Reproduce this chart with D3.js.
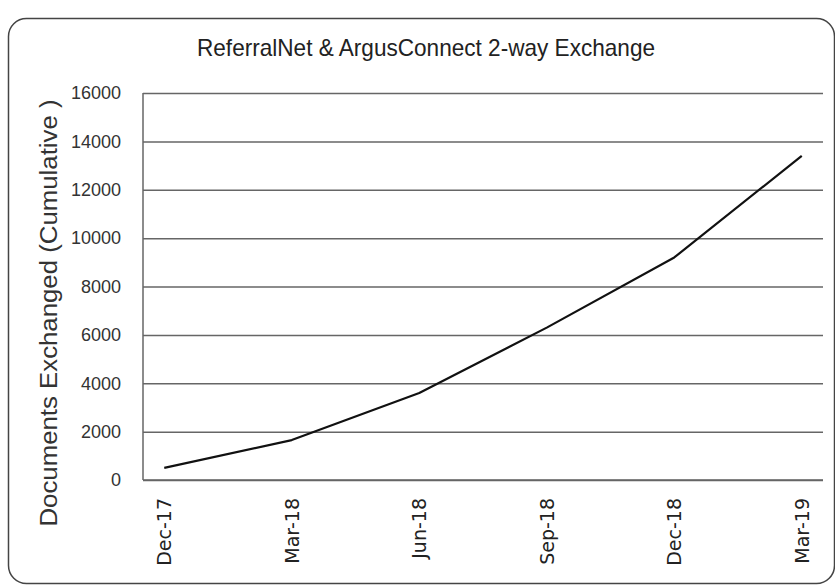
<!DOCTYPE html>
<html>
<head>
<meta charset="utf-8">
<script src="https://cdn.jsdelivr.net/npm/d3@7"></script>
<style>
  body { margin: 0; background: #fff; }
  svg { display: block; }
  .y-tick text { font-family: "Liberation Sans", Arial, sans-serif; font-size: 18px; fill: #333; }
  .x-tick text { font-family: "DejaVu Sans", Verdana, sans-serif; font-size: 19px; fill: #222; }
</style>
</head>
<body>
<div id="chart-area"></div>
<script>
// quarterly cumulative documents exchanged
var monthLabels = ["Dec-17", "Mar-18", "Jun-18", "Sep-18", "Dec-18", "Mar-19"];
var monthIndex = [0, 3, 6, 9, 12, 15];
var documents = [500, 1650, 3600, 6300, 9200, 13400];
var yTickValues = [0, 2000, 4000, 6000, 8000, 10000, 12000, 14000, 16000];

var chartTitle = "ReferralNet & ArgusConnect 2-way Exchange";
var yTitle = "Documents Exchanged (Cumulative )";

var data = monthIndex.map(function(m, i){
    return { month: m, label: monthLabels[i], value: documents[i] };
});

var W = 835, H = 586;
var margin = { left: 143, right: 12, top: 93, bottom: 106 };
var width = W - margin.left - margin.right;
var height = H - margin.top - margin.bottom;

var svg = d3.select("#chart-area")
    .append("svg")
        .attr("width", W)
        .attr("height", H);

// outer rounded frame
svg.append("rect")
    .attr("x", 8.5)
    .attr("y", 18.5)
    .attr("width", 826)
    .attr("height", 565)
    .attr("rx", 18)
    .attr("fill", "none")
    .attr("stroke", "#444")
    .attr("stroke-width", 1.5);

svg.append("text")
    .attr("x", 426)
    .attr("y", 56)
    .attr("text-anchor", "middle")
    .attr("font-family", "'Liberation Sans', Arial, sans-serif")
    .attr("font-size", 24)
    .attr("textLength", 458)
    .attr("lengthAdjust", "spacingAndGlyphs")
    .attr("fill", "#222")
    .text(chartTitle);

svg.append("text")
    .attr("transform", "translate(49,313) rotate(-90)")
    .attr("text-anchor", "middle")
    .attr("dominant-baseline", "central")
    .attr("font-family", "'Liberation Sans', Arial, sans-serif")
    .attr("font-size", 23)
    .attr("textLength", 427)
    .attr("lengthAdjust", "spacingAndGlyphs")
    .attr("fill", "#333")
    .text(yTitle);

var g = svg.append("g")
    .attr("transform", "translate(" + margin.left + "," + margin.top + ")");

var x = d3.scaleLinear()
    .domain([-0.5, 15.5])
    .range([0, width]);

var y = d3.scaleLinear()
    .domain([0, 16000])
    .range([height, 0]);

// gridlines + y labels
var yAxis = g.append("g")
    .attr("class", "y-tick")
    .call(d3.axisLeft(y)
        .tickValues(yTickValues)
        .tickSize(-width)
        .tickPadding(22)
        .tickFormat(d3.format("d")));
yAxis.select(".domain").remove();
yAxis.selectAll("line")
    .attr("stroke", "#666")
    .attr("stroke-width", 1.5);

// x labels, rotated
var xAxis = g.append("g")
    .attr("class", "x-tick")
    .attr("transform", "translate(0," + height + ")")
    .call(d3.axisBottom(x)
        .tickValues(monthIndex)
        .tickSize(0)
        .tickFormat(function(d, i){ return monthLabels[i]; }));
xAxis.select(".domain").remove();
xAxis.selectAll("text")
    .attr("transform", "rotate(-90)")
    .attr("x", -18)
    .attr("y", 0)
    .attr("dy", "0.35em")
    .attr("text-anchor", "end");

// axis lines
g.append("line")
    .attr("x1", 0).attr("x2", 0)
    .attr("y1", 0).attr("y2", height)
    .attr("stroke", "#666")
    .attr("stroke-width", 1.5);
g.append("line")
    .attr("x1", 0).attr("x2", width)
    .attr("y1", height).attr("y2", height)
    .attr("stroke", "#666")
    .attr("stroke-width", 1.5);

var line = d3.line()
    .x(function(d){ return x(d.month); })
    .y(function(d){ return y(d.value); });

g.append("path")
    .datum(data)
    .attr("d", line)
    .attr("fill", "none")
    .attr("stroke", "#111")
    .attr("stroke-width", 2.2)
    .attr("stroke-linejoin", "round");
</script>
</body>
</html>
